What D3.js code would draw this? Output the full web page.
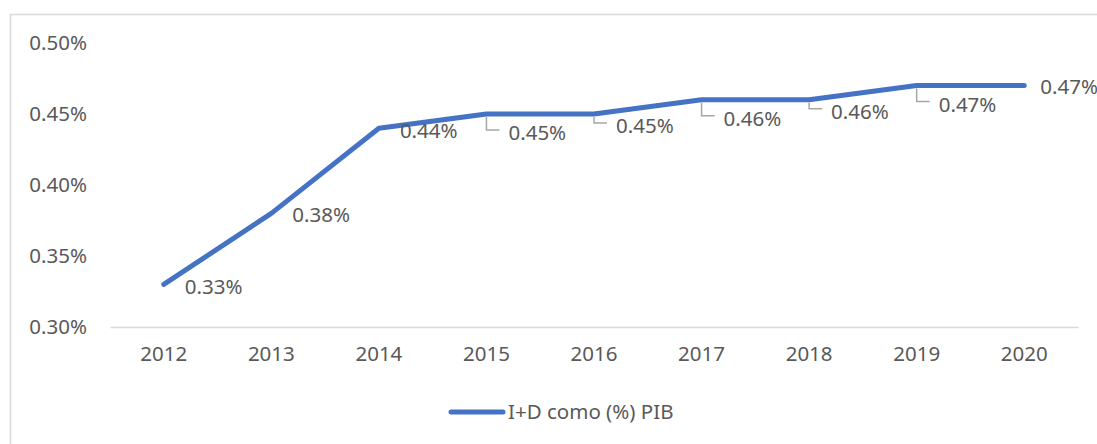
<!DOCTYPE html>
<html lang="es">
<head>
<meta charset="utf-8">
<script src="https://d3js.org/d3.v7.min.js"></script>
<style>
  body { margin: 0; background: #fff; }
  text { font-family: "Noto Sans", "Open Sans", sans-serif; fill: #595959; }
</style>
</head>
<body>
<div id="chart"></div>
<script>
// data
const years = ["2012", "2013", "2014", "2015", "2016", "2017", "2018", "2019", "2020"];
const values = [0.33, 0.38, 0.44, 0.45, 0.45, 0.46, 0.46, 0.47, 0.47];
const yTicks = [0.30, 0.35, 0.40, 0.45, 0.50];
const seriesName = "I+D como (%) PIB";

// label layout: how far each data label sits right of / below its point (px)
const labelDx = [21, 21, 21, 22, 22, 22, 22, 22, 16];
const labelDrop = [2, 1, 3, 19, 12, 19, 12, 19, 1];

const W = 1097, H = 444;
const margin = { top: 43, right: 19, bottom: 117, left: 110 };
const width = W - margin.left - margin.right;
const height = H - margin.top - margin.bottom;
const blue = "#4472C4";
const fs = "20.5px";

const svg = d3.select("#chart").append("svg")
  .attr("width", W).attr("height", H);

// chart frame (cropped on the right and bottom)
svg.append("rect")
  .attr("x", 10.5).attr("y", 14.5)
  .attr("width", W + 20).attr("height", H + 20)
  .attr("fill", "none").attr("stroke", "#d9d9d9").attr("stroke-width", 1.5);

const g = svg.append("g").attr("transform", `translate(${margin.left},${margin.top})`);

const x = d3.scaleBand().domain(years).range([0, width]);
const y = d3.scaleLinear().domain([0.30, 0.50]).range([height, 0]);

// y labels
g.append("g")
  .call(d3.axisLeft(y).tickValues(yTicks).tickSize(0).tickPadding(23)
    .tickFormat(d => d.toFixed(2) + "%"))
  .call(a => a.select(".domain").remove())
  .selectAll("text").style("font-size", fs).attr("fill", "#595959")
  .style("font-family", "'Noto Sans', sans-serif");

// x axis
g.append("g")
  .attr("transform", `translate(0,${height})`)
  .call(d3.axisBottom(x).tickSize(0).tickPadding(19))
  .call(a => a.select(".domain").attr("stroke", "#d9d9d9").attr("stroke-width", 1.5))
  .selectAll("text").style("font-size", fs).attr("fill", "#595959")
  .style("font-family", "'Noto Sans', sans-serif");

const cx = (d, i) => x(years[i]) + x.bandwidth() / 2;

const line = d3.line()
  .x((d, i) => cx(d, i))
  .y(d => y(d));

g.append("path")
  .datum(values)
  .attr("fill", "none")
  .attr("stroke", blue)
  .attr("stroke-width", 5)
  .attr("stroke-linecap", "round")
  .attr("stroke-linejoin", "round")
  .attr("d", line);

// leader lines for labels pushed down
values.forEach((v, i) => {
  const drop = labelDrop[i];
  if (drop <= 8) return;
  const px = cx(v, i), py = y(v);
  g.append("path")
    .attr("d", `M${px},${py + 3}V${py + drop - 3}H${px + 13}`)
    .attr("fill", "none").attr("stroke", "#a6a6a6").attr("stroke-width", 1.5);
});

// data labels
g.selectAll(".lbl")
  .data(values)
  .join("text")
  .attr("class", "lbl")
  .attr("x", (d, i) => cx(d, i) + labelDx[i])
  .attr("y", (d, i) => y(d) + labelDrop[i])
  .attr("dy", "0.35em")
  .style("font-size", fs)
  .text(d => d.toFixed(2) + "%");

// legend
const lg = svg.append("g").attr("transform", `translate(0,${412})`);
lg.append("line")
  .attr("x1", 451).attr("x2", 503).attr("y1", 0).attr("y2", 0)
  .attr("stroke", blue).attr("stroke-width", 5).attr("stroke-linecap", "round");
lg.append("text")
  .attr("x", 508).attr("y", 0).attr("dy", "0.35em")
  .style("font-size", fs)
  .text(seriesName);
</script>
</body>
</html>
